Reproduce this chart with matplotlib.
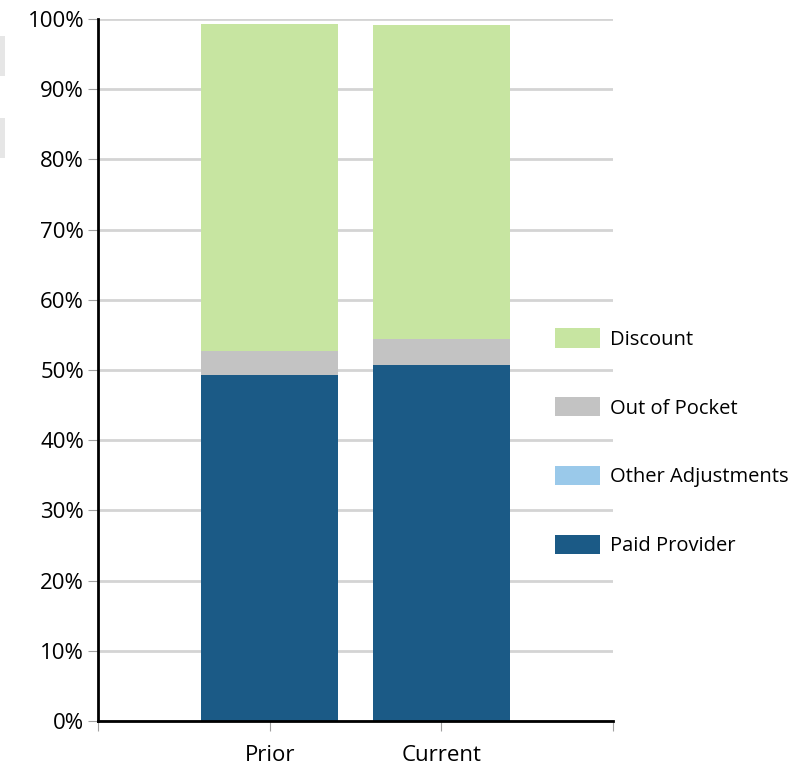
import numpy as np
import matplotlib.pyplot as plt
from matplotlib.patches import Patch, Rectangle

# shares of total charges, in percent
periods = ["Prior", "Current"]
paid_provider = [49.3, 50.7]
other_adjustments = [0.0, 0.0]
out_of_pocket = [3.4, 3.7]
discount = [46.6, 44.7]

series = [
    ("Paid Provider", paid_provider, "#1b5a86"),
    ("Other Adjustments", other_adjustments, "#9ac9ea"),
    ("Out of Pocket", out_of_pocket, "#c3c3c3"),
    ("Discount", discount, "#c7e5a1"),
]

plt.rcParams['font.family'] = ['Open Sans', 'DejaVu Sans']

fig = plt.figure(figsize=(8.12, 7.67), dpi=100)
ax = fig.add_axes([98/812, 46/767, 515/812, 702/767])

x = np.arange(1, len(periods) + 1)
bottom = np.zeros(len(periods))
for name, vals, col in series:
    ax.bar(x, vals, width=0.8, bottom=bottom, color=col, edgecolor="none", zorder=3)
    bottom += np.array(vals)

ax.set_xlim(0, 3)
ax.set_ylim(0, 100)
ax.set_yticks(np.arange(0, 101, 10))
ax.set_yticklabels([f"{v}%" for v in range(0, 101, 10)], fontsize=16)
ax.yaxis.grid(True, color="#d4d4d4", linewidth=2, zorder=0)
ax.set_xticks([0, 1, 2, 3])
ax.set_xticklabels(["", "Prior", "Current", ""], fontsize=16)
ax.tick_params(axis="y", length=7, color="#a0a0a0", pad=3)
ax.tick_params(axis="x", length=7, color="#a0a0a0", pad=10)

for s in ["top", "right"]:
    ax.spines[s].set_visible(False)
ax.spines["left"].set_linewidth(2)
ax.spines["bottom"].set_linewidth(2)
ax.spines["left"].set_zorder(4)
ax.spines["bottom"].set_zorder(4)

handles = [Patch(facecolor=col, label=name) for name, _, col in series[::-1]]
ax.legend(handles=handles, loc="upper left", bbox_to_anchor=(449/515, 0.571),
          frameon=False, fontsize=14.5, handlelength=2.25, handleheight=1.1,
          labelspacing=2.35, handletextpad=0.5, borderaxespad=0)

# faint boxes on the left edge
fig.add_artist(Rectangle((0, 1 - 76/767), 5/812, 40/767, transform=fig.transFigure,
                         facecolor="#e6e6e6", edgecolor="none"))
fig.add_artist(Rectangle((0, 1 - 158/767), 5/812, 40/767, transform=fig.transFigure,
                         facecolor="#e6e6e6", edgecolor="none"))

fig.savefig("out.png", dpi=100)
